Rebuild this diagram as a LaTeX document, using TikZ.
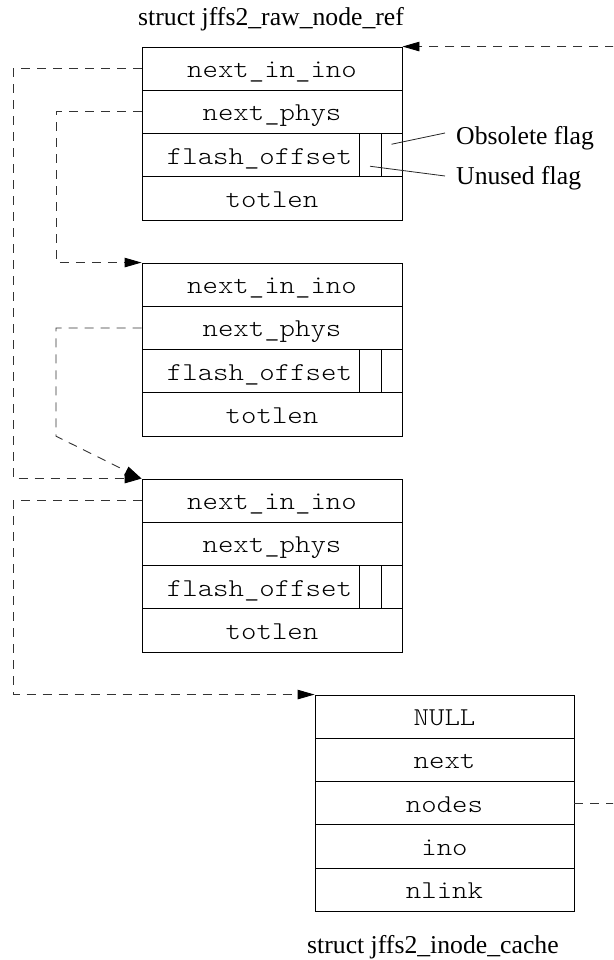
\documentclass[tikz,border=0pt]{standalone}
\usepackage{fontspec}
\setmainfont{Liberation Serif}
\newfontfamily\courfont[FakeStretch=1.143]{lmmonolt10-regular.otf}
\usetikzlibrary{arrows.meta}
\begin{document}
\begin{tikzpicture}[x=1pt,y=-1pt,
  field/.style={draw, line width=0.9pt, minimum width=260pt, minimum height=43.3pt,
    inner sep=0pt, font=\courfont\fontsize{25.7pt}{30pt}\selectfont,
    text height=18pt, text depth=-2.7pt},
  flashfield/.style={field, minimum width=217pt, text width=203pt, align=right},
  flagcell/.style={draw, line width=0.9pt, minimum height=43.3pt, inner sep=0pt},
  ptr/.style={draw=black!80, line width=0.9pt, dash pattern=on 9pt off 7pt,
    -{Triangle[length=17pt,width=9.5pt,color=black]}},
  leader/.style={draw=black!85, line width=0.8pt},
  lbl/.style={font=\rmfamily\fontsize{25.7pt}{30pt}\selectfont, inner sep=0pt, anchor=base west}
]
\useasboundingbox (0,0) rectangle (613,960);
\clip (0,0) rectangle (613,960);

% ---- box 1 ----
\node[field] (a1) at (272,68.65) {next\_in\_ino};
\node[field] (a2) at (272,111.95) {next\_phys};
\node[flashfield] (a3) at (250.5,155.25) {flash\_offset};
\node[flagcell, minimum width=22pt] (a3u) at (370,155.25) {};
\node[flagcell, minimum width=21pt] (a3o) at (391.5,155.25) {};
\node[field] (a4) at (272,198.55) {totlen};

% ---- box 2 ----
\node[field] (b1) at (272,284.65) {next\_in\_ino};
\node[field] (b2) at (272,327.95) {next\_phys};
\node[flashfield] (b3) at (250.5,371.25) {flash\_offset};
\node[flagcell, minimum width=22pt] (b3u) at (370,371.25) {};
\node[flagcell, minimum width=21pt] (b3o) at (391.5,371.25) {};
\node[field] (b4) at (272,414.55) {totlen};

% ---- box 3 ----
\node[field] (c1) at (272,500.65) {next\_in\_ino};
\node[field] (c2) at (272,543.95) {next\_phys};
\node[flashfield] (c3) at (250.5,587.25) {flash\_offset};
\node[flagcell, minimum width=22pt] (c3u) at (370,587.25) {};
\node[flagcell, minimum width=21pt] (c3o) at (391.5,587.25) {};
\node[field] (c4) at (272,630.55) {totlen};

% ---- inode cache ----
\node[field, minimum width=259pt] (d1) at (444.5,716.65) {NULL};
\node[field, minimum width=259pt] (d2) at (444.5,759.95) {next};
\node[field, minimum width=259pt] (d3) at (444.5,803.25) {nodes};
\node[field, minimum width=259pt] (d4) at (444.5,846.55) {ino};
\node[field, minimum width=259pt] (d5) at (444.5,889.85) {nlink};

% ---- labels ----
\node[lbl] (t1) at (138,26) {struct jffs2\_raw\_node\_ref};
\node[lbl] (t2) at (307,953) {struct jffs2\_inode\_cache};
\node[lbl] (obs) at (456,145) {Obsolete flag};
\node[lbl] (unu) at (456,184) {Unused flag};

% ---- leaders ----
\draw[leader] ([yshift=11pt]a3o.center) -- ([shift={(-11pt,12pt)}]obs.base west);
\draw[leader] ([yshift=-11pt]a3u.center) -- ([shift={(-11pt,8pt)}]unu.base west);

% ---- pointers ----
\draw[ptr] (a1.west) -- (13,68.65) |- (c1.north west);
\draw[ptr] (a2.west) -- (56,111.95) |- (b1.north west);
\draw[ptr] (b2.west) -- (56,327.95) -- (56,436.2) -- (c1.north west);
\draw[ptr] (c1.west) -- (13,500.65) |- (d1.north west);
\draw[ptr] (d3.east) -- (640,803.25) |- (a1.north east);
\end{tikzpicture}
\end{document}
